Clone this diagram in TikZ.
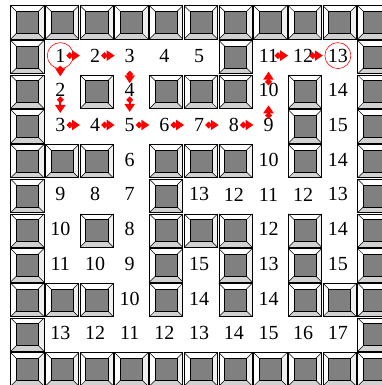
\documentclass[tikz,border=0pt]{standalone}
\usepackage{fontspec}
\setmainfont{Liberation Serif}
\usetikzlibrary{arrows.meta}
\tikzset{
  wallpic/.pic={
    \fill[white] (0.7,-0.7) rectangle (34,-34);
    \fill[black!18] (0.7,-34) -- (34,-34) -- (28.4,-28.4) -- (6.3,-28.4) -- cycle;
    \fill[black!6] (34,-0.7) -- (34,-34) -- (28.4,-28.4) -- (28.4,-6.3) -- cycle;
    \draw[line width=0.5pt] (0.7,-0.7) -- (6.3,-6.3) (34,-0.7) -- (28.4,-6.3)
        (0.7,-34) -- (6.3,-28.4) (34,-34) -- (28.4,-28.4);
    \draw[line width=0.6pt, fill=black!50] (6.3,-6.3) rectangle (28.4,-28.4);
    \draw[line width=0.8pt] (0.7,-0.7) rectangle (34,-34);
  },
  num/.style={inner sep=1pt, font=\fontsize{20}{24}\selectfont},
  goal/.style={circle, draw=red, line width=0.6pt, minimum size=26pt, inner sep=0pt},
  arr/.style={draw=red, fill=red, line width=2pt,
    {Diamond[length=7pt,width=7pt]}-{Triangle[length=8pt,width=10pt]}},
}
\def\S{34.7}
\begin{document}
\begin{tikzpicture}[x=1pt,y=1pt]
\useasboundingbox (0,0) rectangle (382,-385);
\clip (0,0) rectangle (382,-385);
\fill[white] (0,0) rectangle (382,-385);
% walls
\foreach \c in {0,...,10} {
  \pic at ({10+\S*\c},-5) {wallpic};
  \pic at ({10+\S*\c},{-5-\S*10}) {wallpic};
}
\foreach \r in {1,...,9} {
  \pic at (10,{-5-\S*\r}) {wallpic};
  \pic at ({10+\S*10},{-5-\S*\r}) {wallpic};
}
\foreach \c/\r in {6/1, 2/2,4/2,5/2,6/2,8/2, 8/3, 1/4,2/4,4/4,5/4,6/4,8/4,
  4/5, 2/6,4/6,5/6,6/6,8/6, 4/7,6/7,8/7, 1/8,2/8,4/8,6/8,8/8,9/8} {
  \pic at ({10+\S*\c},{-5-\S*\r}) {wallpic};
}
% numbers
\foreach \c/\r/\t in {2/1/2,3/1/3,4/1/4,5/1/5,7/1/11,8/1/12,
  1/2/2,3/2/4,7/2/10,9/2/14,
  1/3/3,2/3/4,3/3/5,4/3/6,5/3/7,6/3/8,7/3/9,9/3/15,
  3/4/6,7/4/10,9/4/14,
  1/5/9,2/5/8,3/5/7,5/5/13,6/5/12,7/5/11,8/5/12,9/5/13,
  1/6/10,3/6/8,7/6/12,9/6/14,
  1/7/11,2/7/10,3/7/9,5/7/15,7/7/13,9/7/15,
  3/8/10,5/8/14,7/8/14,
  1/9/13,2/9/12,3/9/11,4/9/12,5/9/13,6/9/14,7/9/15,8/9/16,9/9/17} {
  \node[num] (n-\c-\r) at ({10+\S*\c+15.6},{-5-\S*\r-15.9}) {\t};
}
\node[num, goal] (n-1-1) at ({10+\S*1+15.6},{-5-\S*1-15.9}) {1};
\node[num, goal] (n-9-1) at ({10+\S*9+15.6},{-5-\S*1-15.9}) {13};
% arrows
\foreach \a/\b in {1-1/2-1, 2-1/3-1, 7-1/8-1, 8-1/9-1,
  1-3/2-3, 2-3/3-3, 3-3/4-3, 4-3/5-3, 5-3/6-3, 6-3/7-3} {
  \draw[arr, shorten <=6pt, shorten >=15pt] (n-\a.center) -- (n-\b.center);
}
\draw[arr, shorten <=10pt, shorten >=14pt] (n-1-1.center) -- (n-1-2.center);
\draw[arr, shorten <=6pt, shorten >=12pt] (n-1-2.center) -- (n-1-3.center);
\draw[arr, shorten <=15pt, shorten >=7pt] (n-3-1.center) -- (n-3-2.center);
\draw[arr, shorten <=6pt, shorten >=13pt] (n-3-2.center) -- (n-3-3.center);
\draw[arr, shorten <=6pt, shorten >=15pt] (n-7-3.center) -- (n-7-2.center);
\draw[arr, shorten <=5pt, shorten >=16pt] (n-7-2.center) -- (n-7-1.center);
\end{tikzpicture}
\end{document}
